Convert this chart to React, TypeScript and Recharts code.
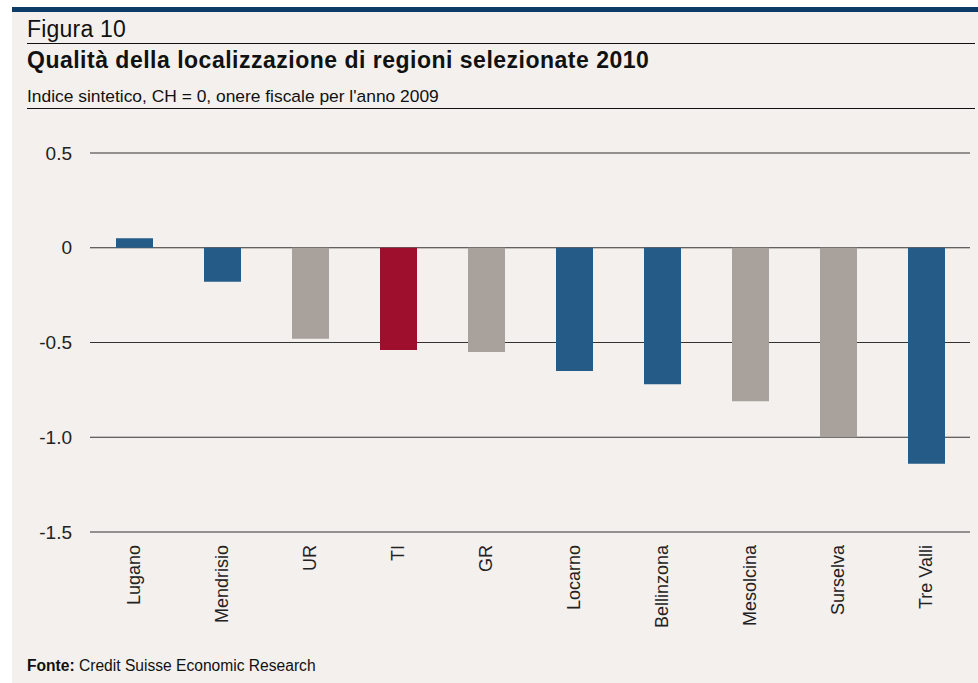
import React from "react";
import { BarChart, Bar, XAxis, YAxis, CartesianGrid, Cell } from "recharts";

// ---- Data ----
const categories = [
  "Lugano",
  "Mendrisio",
  "UR",
  "TI",
  "GR",
  "Locarno",
  "Bellinzona",
  "Mesolcina",
  "Surselva",
  "Tre Valli",
];
const values = [0.05, -0.18, -0.48, -0.54, -0.55, -0.65, -0.72, -0.81, -1.0, -1.14];
// group of each category: Ticino region, canton TI, other
const groups = [
  "tiRegion",
  "tiRegion",
  "other",
  "ti",
  "other",
  "tiRegion",
  "tiRegion",
  "other",
  "other",
  "tiRegion",
];
const yTicks = [-1.5, -1.0, -0.5, 0, 0.5];
const yTickLabels = ["-1.5", "-1.0", "-0.5", "0", "0.5"];

// ---- Styles ----
const groupColors: Record<string, string> = {
  tiRegion: "#245b87",
  ti: "#9e0e2d",
  other: "#a9a19b",
};
const FONT = '"Liberation Sans", Arial, Helvetica, sans-serif';
const BG = "#f3f0ed";

const chartData = categories.map((c, i) => ({ name: c, value: values[i], group: groups[i] }));

const XTick = (props: any) => {
  const { x, y, payload } = props;
  return (
    <text
      x={x}
      y={y}
      transform={`rotate(-90, ${x}, ${y})`}
      textAnchor="end"
      dy="0.35em"
      fontSize={18}
      fontFamily={FONT}
      fill="#222"
    >
      {payload.value}
    </text>
  );
};

export default function App() {
  return (
    <div
      style={{
        position: "absolute",
        left: 0,
        top: 0,
        width: 978,
        height: 683,
        background: "#ffffff",
        fontFamily: FONT,
        overflow: "hidden",
      }}
    >
      {/* beige panel */}
      <div style={{ position: "absolute", left: 12, top: 7, width: 966, height: 676, background: BG }} />
      {/* navy top bar */}
      <div style={{ position: "absolute", left: 12, top: 7, width: 966, height: 5, background: "#0b3b66" }} />
      {/* header texts */}
      <div
        style={{
          position: "absolute",
          left: 27,
          top: 17.5,
          fontSize: 23,
          lineHeight: "23px",
          letterSpacing: 0.2,
          color: "#111",
          whiteSpace: "nowrap",
        }}
      >
        Figura 10
      </div>
      <div style={{ position: "absolute", left: 27, top: 42.5, width: 948, height: 1.5, background: "#111" }} />
      <div
        style={{
          position: "absolute",
          left: 27,
          top: 48.5,
          fontSize: 23,
          lineHeight: "23px",
          fontWeight: "bold",
          letterSpacing: 0.5,
          color: "#111",
          whiteSpace: "nowrap",
        }}
      >
        Qualità della localizzazione di regioni selezionate 2010
      </div>
      <div
        style={{
          position: "absolute",
          left: 27,
          top: 88,
          fontSize: 17.4,
          lineHeight: "17px",
          color: "#111",
          whiteSpace: "nowrap",
        }}
      >
        Indice sintetico, CH = 0, onere fiscale per l'anno 2009
      </div>
      <div style={{ position: "absolute", left: 27, top: 107.5, width: 948, height: 1.2, background: "#111" }} />

      {/* chart */}
      <div style={{ position: "absolute", left: 0, top: 0 }}>
        <BarChart
          width={978}
          height={683}
          data={chartData}
          margin={{ top: 153, right: 8, left: 0, bottom: 0 }}
          barSize={37}
        >
          <CartesianGrid vertical={false} stroke="#333" strokeWidth={1.2} />
          <YAxis
            type="number"
            domain={[-1.5, 0.5]}
            ticks={yTicks}
            tickFormatter={(v: number) => yTickLabels[yTicks.indexOf(v)] ?? String(v)}
            width={90}
            axisLine={false}
            tickLine={false}
            tickSize={0}
            tickMargin={18}
            tick={{ fontSize: 19, fontFamily: FONT, fill: "#222" }}
            interval={0}
          />
          <XAxis
            dataKey="name"
            height={151}
            axisLine={false}
            tickLine={false}
            tickSize={0}
            tickMargin={13}
            interval={0}
            tick={<XTick />}
          />
          <Bar dataKey="value" isAnimationActive={false}>
            {chartData.map((d, i) => (
              <Cell key={i} fill={groupColors[d.group]} />
            ))}
          </Bar>
        </BarChart>
      </div>

      {/* footer */}
      <div
        style={{
          position: "absolute",
          left: 27,
          top: 658,
          fontSize: 15.6,
          lineHeight: "15px",
          color: "#111",
          whiteSpace: "nowrap",
        }}
      >
        <b>Fonte:</b> Credit Suisse Economic Research
      </div>
    </div>
  );
}
